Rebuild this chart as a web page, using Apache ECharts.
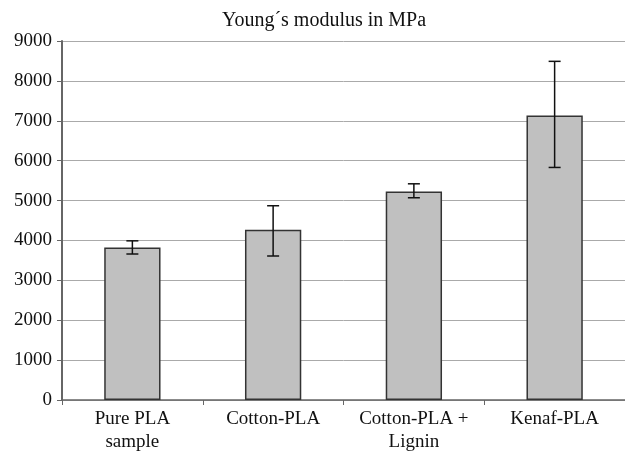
<!DOCTYPE html>
<html>
<head>
<meta charset="utf-8">
<script src="https://cdn.jsdelivr.net/npm/echarts@6/dist/echarts.min.js"></script>
<style>
  html, body { margin: 0; padding: 0; background: #fff; }
  #main { width: 625px; height: 461px; }
</style>
</head>
<body>
<div id="main"></div>
<script>
// data
var categories = ["Pure PLA\nsample", "Cotton-PLA", "Cotton-PLA +\nLignin", "Kenaf-PLA"];
var modulus = [3820, 4270, 5230, 7130];
var errLow = [3660, 3610, 5070, 5830];
var errHigh = [3990, 4870, 5420, 8490];
var yTicks = [0, 1000, 2000, 3000, 4000, 5000, 6000, 7000, 8000, 9000];

var serif = "'Liberation Serif', 'DejaVu Serif', serif";

var errData = categories.map(function (c, i) {
  return [i, errLow[i], errHigh[i]];
});

var myChart = echarts.init(document.getElementById("main"));
var option = {
  animation: false,
  title: {
    text: "Young\u00b4s modulus in MPa",
    left: 319,
    textAlign: "center",
    top: 6,
    textStyle: { fontFamily: serif, fontSize: 20, fontWeight: "normal", color: "#111" }
  },
  grid: { left: 62, right: -3, top: 41, bottom: 61 },
  xAxis: {
    type: "category",
    data: categories,
    axisLine: { lineStyle: { color: "#666", width: 1.5 } },
    axisTick: { show: true, interval: 0, length: 5, lineStyle: { color: "#666" } },
    axisLabel: { interval: 0, fontFamily: serif, fontSize: 19, color: "#111", margin: 8, lineHeight: 23 }
  },
  yAxis: {
    type: "value",
    min: yTicks[0],
    max: yTicks[yTicks.length - 1],
    interval: 1000,
    axisLine: { show: true, lineStyle: { color: "#666", width: 2 } },
    axisTick: { show: true, length: 5, lineStyle: { color: "#666" } },
    axisLabel: {
      fontFamily: serif, fontSize: 19, color: "#111", margin: 10,
      formatter: function (v) { return String(v); }
    },
    splitLine: { show: true, lineStyle: { color: "#aaa", width: 1 } }
  },
  series: [
    {
      type: "bar",
      data: modulus,
      barWidth: "40%",
      itemStyle: { color: "#c0c0c0", borderColor: "#333", borderWidth: 1.5 }
    },
    {
      type: "custom",
      data: errData,
      z: 10,
      renderItem: function (params, api) {
        var x = api.value(0);
        var lo = api.coord([x, api.value(1)]);
        var hi = api.coord([x, api.value(2)]);
        var cap = 6;
        var st = { stroke: "#111", lineWidth: 1.5 };
        return {
          type: "group",
          children: [
            { type: "line", shape: { x1: lo[0], y1: lo[1], x2: hi[0], y2: hi[1] }, style: st },
            { type: "line", shape: { x1: hi[0] - cap, y1: hi[1], x2: hi[0] + cap, y2: hi[1] }, style: st },
            { type: "line", shape: { x1: lo[0] - cap, y1: lo[1], x2: lo[0] + cap, y2: lo[1] }, style: st }
          ]
        };
      }
    }
  ]
};
myChart.setOption(option);
</script>
</body>
</html>
